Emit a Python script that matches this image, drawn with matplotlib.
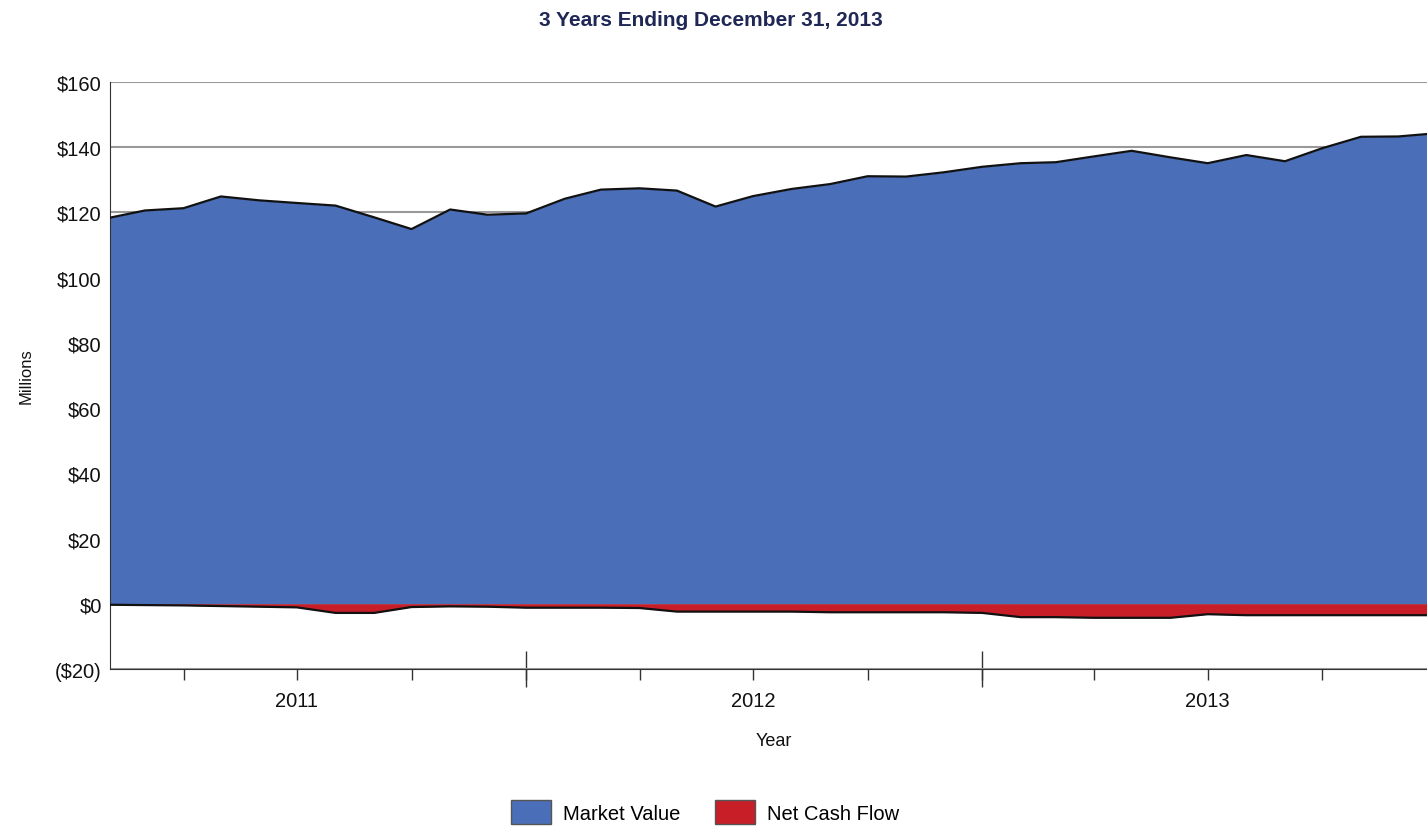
import pandas as pd
import matplotlib
matplotlib.use('Agg')
import matplotlib.pyplot as plt
from matplotlib.patches import Patch

plt.rcParams['font.family'] = ['Liberation Sans', 'DejaVu Sans']

# month-end dates, 3 years ending Dec 31, 2013
months = pd.date_range('2011-01-31', periods=36, freq='ME')

# market value, $ millions
market_value = [118.4, 120.6, 121.3, 124.9, 123.7, 122.9, 122.1, 118.5, 114.9,
                120.9, 119.3, 119.7, 124.2, 127.0, 127.4, 126.7, 121.8, 125.0,
                127.2, 128.7, 131.1, 131.0, 132.3, 134.0, 135.1, 135.4, 137.2,
                138.9, 136.9, 135.1, 137.6, 135.7, 139.7, 143.2, 143.3, 144.3]

# cumulative net cash flow, $ millions
net_cash_flow = [-0.3, -0.4, -0.5, -0.7, -0.9, -1.1, -2.8, -2.8, -1.0,
                 -0.8, -0.9, -1.2, -1.2, -1.2, -1.3, -2.4, -2.4, -2.4,
                 -2.4, -2.6, -2.6, -2.6, -2.6, -2.8, -4.1, -4.1, -4.3,
                 -4.3, -4.3, -3.2, -3.5, -3.5, -3.5, -3.5, -3.5, -3.5]

y_ticks = [-20, 0, 20, 40, 60, 80, 100, 120, 140, 160]
y_labels = ['($20)', '$0', '$20', '$40', '$60', '$80', '$100', '$120', '$140', '$160']
years = ['2011', '2012', '2013']

blue = '#4A6FB8'
red = '#C81E28'

fig = plt.figure(figsize=(14.27, 8.28), dpi=100)
# axes runs a little past the right edge of the picture, as in the original
ax = fig.add_axes([110/1427, 158/828, 1327/1427, 587/828])

ax.fill_between(months, 0, market_value, color=blue, lw=0, zorder=2)
ax.plot(months, market_value, color='#111111', lw=1.6, zorder=3)
ax.fill_between(months, 0, net_cash_flow, color=red, lw=0, zorder=2)
ax.plot(months, net_cash_flow, color='#111111', lw=1.6, zorder=3)

ax.set_xlim(months[0], months[-1])
ax.set_ylim(-20, 160)
ax.set_yticks(y_ticks)
ax.set_yticklabels(y_labels)
ax.tick_params(axis='y', length=0, pad=6, labelsize=14.5, labelcolor='#111111')
ax.yaxis.grid(True, color='#999999', lw=1.5)
ax.set_axisbelow(True)

# quarter-end ticks, labels at mid-year
quarter_ends = months[2::3]
mid_years = [pd.Timestamp(y + '-06-30') for y in years]
ax.set_xticks(mid_years)
ax.set_xticklabels(years)
ax.set_xticks(quarter_ends, minor=True)
ax.tick_params(axis='x', which='both', direction='out', length=8, width=1,
               color='#333333', labelsize=14.5, pad=8, labelcolor='#111111')

# year-end boundary ticks
sec = ax.secondary_xaxis('bottom')
sec.set_xticks([pd.Timestamp('2011-12-31'), pd.Timestamp('2012-12-31')])
sec.set_xticklabels(['', ''])
sec.tick_params(direction='inout', length=26, width=1, color='#333333')
sec.spines['bottom'].set_visible(False)

for s in ['top', 'right']:
    ax.spines[s].set_visible(False)
ax.spines['left'].set_color('#333333')
ax.spines['bottom'].set_color('#333333')

ax.set_xlabel('Year', fontsize=13, labelpad=16, color='#111111')
ax.set_ylabel('Millions', fontsize=12, labelpad=15, color='#111111')

fig.text(711/1427, 1 - 20/828, '3 Years Ending December 31, 2013', ha='center', va='center',
         fontsize=15, fontweight='bold', color='#1F2755',
         family=['Liberation Sans Narrow', 'Liberation Sans', 'DejaVu Sans'])

handles = [Patch(facecolor=blue, edgecolor='#555555', label='Market Value'),
           Patch(facecolor=red, edgecolor='#555555', label='Net Cash Flow')]
fig.legend(handles=handles, loc='center', bbox_to_anchor=(705/1427, 1 - 813/828), ncol=2,
           frameon=False, fontsize=14.5, handlelength=2.0, handleheight=1.5,
           columnspacing=1.7, handletextpad=0.6)

fig.savefig('out.png', dpi=100)
